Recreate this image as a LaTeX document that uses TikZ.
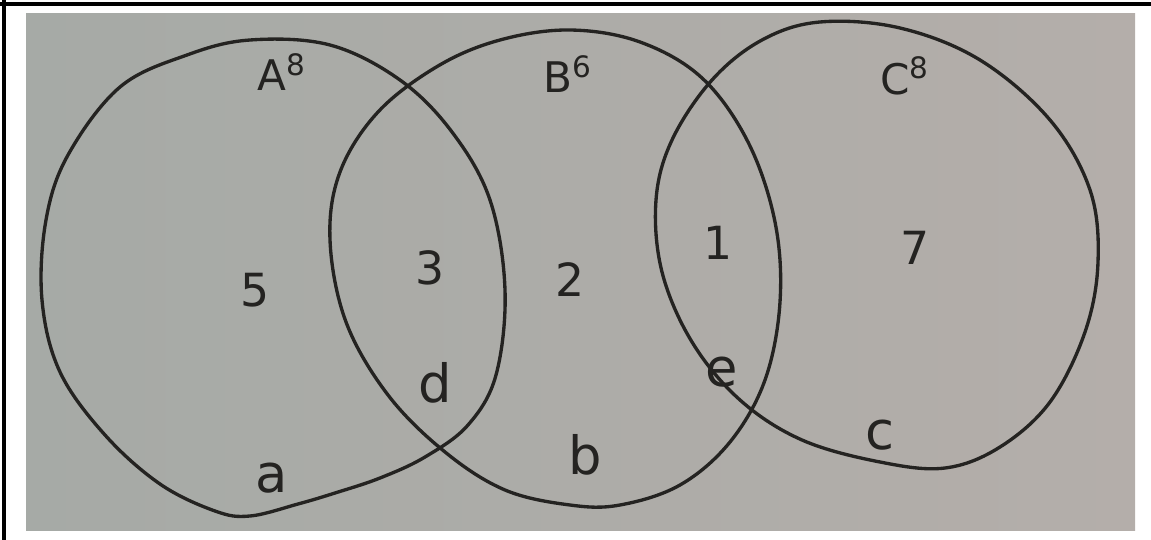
\documentclass[tikz,border=0pt]{standalone}
\usepackage{fontspec}
\setmainfont{DejaVu Sans}
\usepackage{xcolor}
\usetikzlibrary{positioning}
\definecolor{ink}{HTML}{242321}
\definecolor{paperL}{HTML}{A6AAA6}
\definecolor{paperR}{HTML}{B4AEAA}

\begin{document}
\begin{tikzpicture}[
  x=0.02cm, y=-0.02cm,
  ring/.style={draw=ink,line width=1.9pt,line join=round},
  lbl/.style={text=ink,font=\fontsize{24}{28}\selectfont,inner sep=0pt},
  num/.style={text=ink,font=\fontsize{26}{30}\selectfont,inner sep=0pt},
  let/.style={text=ink,font=\fontsize{30}{34}\selectfont,inner sep=0pt}
]
\useasboundingbox (0,0) rectangle (1151,540);
% paper
\shade[left color=paperL,right color=paperR] (26,14) rectangle (1135,530);
\draw[line width=2.2pt] (0,4) -- (1151,4);
\draw[line width=2.2pt] (4,0) -- (4,540);
% set A
\draw[ring] plot[smooth cycle,tension=0.6] coordinates {
  (250,40) (330,45) (400,80) (452,132) (490,200) (505,290) (496,375)
  (468,425) (425,457) (380,478) (335,493) (298,504) (250,516) (215,511)
  (160,484) (105,435) (60,372) (42,300) (46,220) (68,155) (120,87) (187,55)};
% set B
\draw[ring] plot[smooth cycle,tension=0.6] coordinates {
  (570,30) (640,42) (702,78) (748,142) (775,222) (780,302) (765,380)
  (730,442) (680,485) (620,505) (570,505) (505,490) (445,452) (388,395)
  (346,322) (330,240) (340,172) (378,112) (438,66) (500,40)};
% set C
\draw[ring] plot[smooth cycle,tension=0.6] coordinates {
  (820,22) (900,28) (980,60) (1050,120) (1090,190) (1098,262) (1085,332)
  (1050,402) (1000,447) (945,468) (880,462) (802,440) (740,400) (692,342)
  (662,272) (656,200) (672,140) (712,80) (762,40)};
% set names
\node[lbl] (nameA) at (282,72) {A\textsuperscript{8}};
\node[lbl] (nameB) at (568,74) {B\textsuperscript{6}};
\node[lbl] (nameC) at (905,76) {C\textsuperscript{8}};
% counts
\node[num] (onlyA) at (255,290) {5};
\node[num] (AB) at (430,268) {3};
\node[num] (onlyB) at (570,280) {2};
\node[num] (BC) at (718,243) {1};
\node[num] (onlyC) at (915,248) {7};
% letters
\node[let] (d) at (435,383) {d};
\node[let] (e) at (722,372) {e};
\node[let] (a) at (272,478) {a};
\node[let] (b) at (585,455) {b};
\node[let] (c) at (880,435) {c};
\end{tikzpicture}
\end{document}
